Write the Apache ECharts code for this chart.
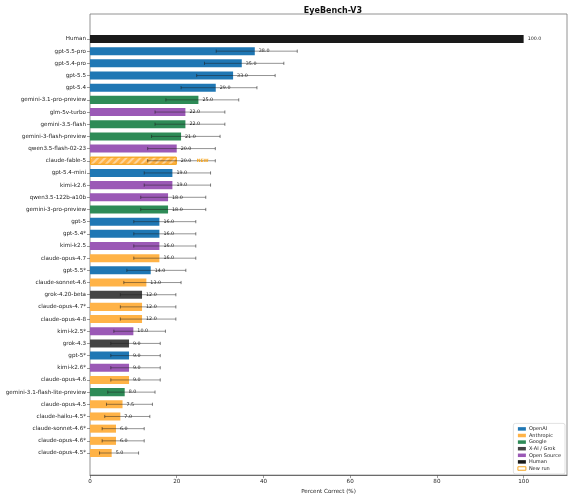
<!DOCTYPE html>
<html>
<head>
<meta charset="utf-8">
<script src="https://cdn.jsdelivr.net/npm/echarts@6/dist/echarts.min.js"></script>
<style>
html,body{margin:0;padding:0;background:#fff;}
#chart{width:572px;height:500px;}
</style>
</head>
<body>
<div id="chart"></div>
<script>
const categories = ['Human','gpt-5.5-pro','gpt-5.4-pro','gpt-5.5','gpt-5.4','gemini-3.1-pro-preview','glm-5v-turbo','gemini-3.5-flash','gemini-3-flash-preview','qwen3.5-flash-02-23','claude-fable-5','gpt-5.4-mini','kimi-k2.6','qwen3.5-122b-a10b','gemini-3-pro-preview','gpt-5','gpt-5.4*','kimi-k2.5','claude-opus-4.7','gpt-5.5*','claude-sonnet-4.6','grok-4.20-beta','claude-opus-4.7*','claude-opus-4-8','kimi-k2.5*','grok-4.3','gpt-5*','kimi-k2.6*','claude-opus-4.6','gemini-3.1-flash-lite-preview','claude-opus-4.5','claude-haiku-4.5*','claude-sonnet-4.6*','claude-opus-4.6*','claude-opus-4.5*'];
const scores = [100,38,35,33,29,25,22,22,21,20,20,19,19,18,18,16,16,16,16,14,13,12,12,12,10,9,9,9,9,8,7.5,7,6,6,5];
const groups = ['Human','OpenAI','OpenAI','OpenAI','OpenAI','Google','Open Source','Google','Google','Open Source','Anthropic','OpenAI','Open Source','Open Source','Google','OpenAI','OpenAI','Open Source','Anthropic','OpenAI','Anthropic','X-AI / Grok','Anthropic','Anthropic','Open Source','X-AI / Grok','OpenAI','Open Source','Anthropic','Google','Anthropic','Anthropic','Anthropic','Anthropic','Anthropic'];
const ciLow = [null,29.1,26.4,24.6,21.0,17.5,15.0,15.0,14.2,13.3,13.3,12.5,12.5,11.7,11.7,10.1,10.1,10.1,10.1,8.5,7.8,7.0,7.0,7.0,5.5,4.8,4.8,4.8,4.8,4.1,3.8,3.4,2.8,2.8,2.2];
const ciHigh = [null,47.8,44.7,42.7,38.5,34.3,31.1,31.1,30.0,28.9,28.9,27.8,27.8,26.7,26.7,24.4,24.4,24.4,24.4,22.1,21.0,19.8,19.8,19.8,17.4,16.2,16.2,16.2,16.2,15.0,14.4,13.8,12.5,12.5,11.2];
const newRun = ['claude-fable-5'];
const legendNames = ['OpenAI','Anthropic','Google','X-AI / Grok','Open Source','Human','New run'];
const xTicks = [0,20,40,60,80,100];

const colors = {
  'OpenAI':'#1f77b4',
  'Anthropic':'#ffb347',
  'Google':'#2e8b57',
  'X-AI / Grok':'#444444',
  'Open Source':'#9b59b6',
  'Human':'#1a1a1a'
};
const newRunColor = '#f5a623';

const chart = echarts.init(document.getElementById('chart'), null, {renderer:'canvas'});
const FONT = 'DejaVu Sans';

const barData = scores.map((v,i)=>{
  const isNew = newRun.indexOf(categories[i]) >= 0;
  const item = {value:v, itemStyle:{color:colors[groups[i]]}};
  if (isNew) {
    item.itemStyle = {
      color: colors[groups[i]],
      borderColor: newRunColor,
      borderWidth: 1,
      decal: {symbol:'rect', symbolSize:1, dashArrayX:[1,0], dashArrayY:[1.2,3], rotation:-Math.PI/4, color:'rgba(255,255,255,0.45)'}
    };
  }
  return item;
});

const errData = categories.map((c,i)=>[ciLow[i]==null?'-':ciLow[i], ciHigh[i]==null?'-':ciHigh[i], i, scores[i], newRun.indexOf(c)>=0?1:0]);

const legendData = legendNames.map(n=>{
  if (n==='New run') return {name:n, icon:'rect', itemStyle:{color:'#fff', borderColor:newRunColor, borderWidth:1}};
  return {name:n, icon:'rect', itemStyle:{color:colors[n]}};
});

const option = {
  animation:false,
  backgroundColor:'#fff',
  title:{text:'EyeBench-V3', left:328, textAlign:'center', top:2, textStyle:{fontFamily:FONT, fontSize:8, fontWeight:'bold', color:'#111'}},
  grid:[
    {left:90, right:5, top:32.9, bottom:40.9, containLabel:false},
    {left:90, right:5, top:14, bottom:23, containLabel:false, show:true, borderColor:'#777', borderWidth:0.8}
  ],
  xAxis:[
    {gridIndex:0, type:'value', min:0, max:110, show:false},
    {gridIndex:1, type:'value', min:0, max:110, interval:20,
     axisLine:{show:true, lineStyle:{color:'#555', width:0.8}},
     axisTick:{show:true, length:3, lineStyle:{color:'#555', width:0.6}},
     axisLabel:{showMaxLabel:false, fontFamily:FONT, fontSize:5.6, color:'#222', margin:3,
       formatter:v=> xTicks.indexOf(v)>=0 ? String(v) : ''},
     splitLine:{show:false},
     name:'Percent Correct (%)', nameLocation:'middle', nameGap:13,
     nameTextStyle:{fontFamily:FONT, fontSize:5.6, color:'#222'}}
  ],
  yAxis:[
    {gridIndex:0, type:'category', data:categories, inverse:true,
     axisLine:{show:false},
     axisTick:{show:true, alignWithLabel:true, length:3, lineStyle:{color:'#555', width:0.6}},
     axisLabel:{fontFamily:FONT, fontSize:5.6, color:'#222', margin:4, interval:0},
     splitLine:{show:false}},
    {gridIndex:1, type:'value', min:0, max:1, show:false}
  ],
  legend:{
    data:legendData, orient:'vertical', right:7, bottom:26,
    itemWidth:8, itemHeight:3.5, itemGap:1.6,
    padding:[3,4,3,4], borderColor:'#cccccc', borderWidth:0.6, borderRadius:2,
    backgroundColor:'#fff',
    textStyle:{fontFamily:FONT, fontSize:5, color:'#222', padding:[0,0,0,-2]},
    selectedMode:false
  },
  series:[
    {type:'bar', name:'scores', xAxisIndex:0, yAxisIndex:0, data:barData, barCategoryGap:'34%', z:2, silent:true},
    {type:'custom', name:'ci', xAxisIndex:0, yAxisIndex:0, data:errData, z:5, silent:true,
     encode:{x:[0,1,3], y:2},
     renderItem:function(params, api){
       const yi = api.value(2);
       const lo = api.value(0), hi = api.value(1), sc = api.value(3), isNew = api.value(4);
       const children = [];
       const endPt = api.coord([sc, yi]);
       if (!isNaN(lo) && !isNaN(hi)) {
         const p1 = api.coord([lo, yi]);
         const p2 = api.coord([hi, yi]);
         const st = {stroke:'rgba(30,30,30,0.6)', lineWidth:0.8};
         children.push({type:'line', shape:{x1:p1[0], y1:p1[1], x2:p2[0], y2:p2[1]}, style:st});
         children.push({type:'line', shape:{x1:p1[0], y1:p1[1]-1.6, x2:p1[0], y2:p1[1]+1.6}, style:{stroke:'rgba(30,30,30,0.8)', lineWidth:0.7}});
         children.push({type:'line', shape:{x1:p2[0], y1:p2[1]-1.6, x2:p2[0], y2:p2[1]+1.6}, style:{stroke:'rgba(30,30,30,0.8)', lineWidth:0.7}});
       }
       children.push({type:'text', x:endPt[0]+4, y:endPt[1], style:{text:sc.toFixed(1), fill:'#222', font:'4.8px "DejaVu Sans"', verticalAlign:'middle', align:'left'}});
       if (isNew) {
         children.push({type:'text', x:endPt[0]+20, y:endPt[1], style:{text:'NEW', fill:newRunColor, font:'bold 4.5px "DejaVu Sans"', verticalAlign:'middle', align:'left'}});
       }
       return {type:'group', children:children};
     }},
    ...legendNames.map(n=>({type:'line', name:n, xAxisIndex:1, yAxisIndex:1, data:[], showSymbol:false,
       itemStyle:{color: n==='New run' ? newRunColor : colors[n]}}))
  ]
};
chart.setOption(option);
</script>
</body>
</html>
